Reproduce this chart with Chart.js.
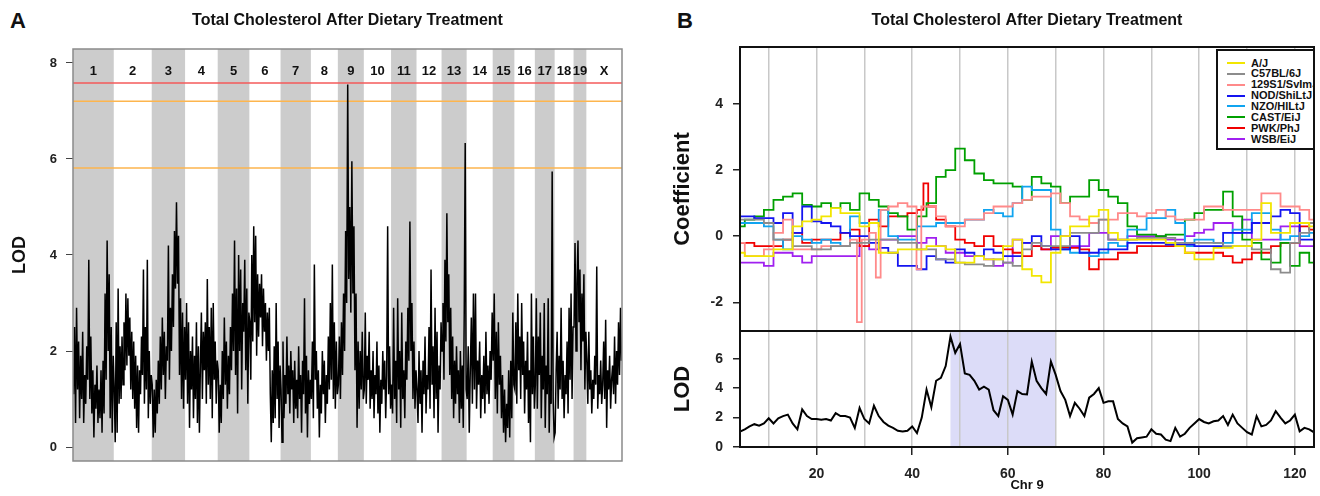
<!DOCTYPE html>
<html><head><meta charset="utf-8">
<script src="https://cdn.jsdelivr.net/npm/chart.js@4.4.1/dist/chart.umd.min.js"></script>
<style>
html,body{margin:0;padding:0;background:#fff;}
body{width:1320px;height:496px;position:relative;overflow:hidden;font-family:"Liberation Sans",Arial,sans-serif;}
canvas{position:absolute;}
.plabel{position:absolute;font-weight:bold;font-size:22px;line-height:22px;color:#111;}
#legend{position:absolute;left:1216px;top:49px;width:99px;height:101px;box-sizing:border-box;border:2px solid #111;background:#fff;overflow:hidden;}
#legend .row{position:absolute;left:0;height:11px;line-height:11px;font-size:11px;font-weight:bold;color:#111;white-space:nowrap;}
#legend .sw{position:absolute;left:9px;top:4.5px;width:18px;height:2px;}
#legend .tx{position:absolute;left:33px;top:0;}
</style>
</head><body>
<div class="plabel" style="left:10px;top:10px">A</div>
<div class="plabel" style="left:677px;top:10px">B</div>
<canvas id="cA" width="660" height="496" style="left:0;top:0"></canvas>
<canvas id="cB1" width="660" height="335" style="left:660px;top:0"></canvas>
<canvas id="cB2" width="660" height="176" style="left:660px;top:320px"></canvas>
<div id="legend"></div>
<script>
// ---------- DATA ----------
const chartTitle = 'Total Cholesterol After Dietary Treatment';
const chromNames = ['1','2','3','4','5','6','7','8','9','10','11','12','13','14','15','16','17','18','19','X'];
const chromLenMb = [195.5,182.1,160.0,156.5,151.8,149.7,145.4,129.4,124.6,130.7,122.1,120.1,120.4,124.9,104.0,98.2,95.0,90.7,61.4,171.0];
const thresholdsA = [7.58, 7.2, 5.81];
const yTicksA = [0,2,4,6,8];

const chr1Lod = [1.1,2.5,0.5,2.9,1.2,2.2,0.6,1.9,1.0,2.4,0.5,1.5,0.9,2.1,1.4,3.9,1.0,2.3,0.7,1.6,0.2,1.3,0.8,1.7,0.5,1.2,0.6,1.6,0.3,1.8,0.7,3.2,1.4,4.3,2.0,3.6,0.6,2.5,0.3,1.9];
const chr2Lod = [1.2,0.1,2.6,0.3,3.3,0.9,2.1,1.0,2.3,1.3,2.6,1.6,3.2,1.7,3.1,1.9,2.7,1.2,2.4,1.0,2.2,0.8,1.9,0.4,1.7,0.3,1.6,1.1,2.3,1.5,3.7,0.9,2.5,1.2,3.9,0.6,2.0,0.9,1.5];
const chr3Lod = [1.3,0.2,1.2,0.3,1.4,0.7,1.8,0.9,2.3,1.2,2.7,1.5,2.4,1.0,2.1,1.8,4.2,1.4,2.9,2.0,3.6,2.5,4.5,3.3,5.1,3.4,4.4,1.5,3.1,1.0,2.8,0.8,2.5];
const chr4Lod = [1.4,3.0,0.9,2.6,0.4,2.0,1.2,2.3,0.6,1.9,1.0,2.6,0.5,2.1,0.3,1.7,2.8,1.0,2.4,1.6,2.6,0.9,3.5,1.3,2.5,1.0,2.9,0.6,3.0,1.4,2.2,0.9,1.8];
const chr5Lod = [1.6,0.3,1.3,0.5,2.0,1.0,2.7,1.3,2.2,0.8,1.9,1.1,2.5,1.6,3.2,2.0,4.3,1.5,3.3,0.7,4.0,2.0,3.7,1.2,3.0,2.4,3.9,1.6,3.3,0.9,2.8];
const chr6Lod = [2.6,1.4,4.0,2.2,4.6,2.6,4.4,1.9,3.6,2.3,3.4,2.7,3.6,2.1,3.3,2.4,3.0,1.8,2.8,2.0,2.9,1.1,0.1,1.6,0.5,2.1,0.6,3.0,1.0,2.2,0.4,1.7];
const chr7Lod = [1.2,0.1,2.2,0.6,1.5,0.9,2.3,1.1,1.7,0.7,2.0,1.2,1.6,0.5,1.8,0.8,1.4,0.6,2.1,1.0,1.5,0.3,1.8,1.1,3.1,0.7,1.9,0.2,1.6,0.9,1.4];
const chr8Lod = [1.0,2.2,0.6,3.8,1.4,2.0,0.8,1.6,0.2,1.3,0.7,2.0,1.1,1.8,0.5,1.5,0.9,2.3,1.2,3.0,1.4,3.8,1.0,2.6,0.8,2.2,1.1];
const chr9Lod = [1.3,2.3,1.0,2.6,1.5,3.2,2.0,4.5,3.0,7.55,3.5,5.0,2.8,5.95,3.2,4.6,1.6,3.2,0.4,2.2,0.8,2.0,1.2,2.4,1.0];
const chr10Lod = [1.2,2.8,0.9,1.9,1.4,2.4,0.8,1.6,1.0,2.0,0.6,1.5,1.1,2.2,0.7,1.7,0.3,1.4,0.9,2.0,1.2,1.8,0.6,1.5,4.6,1.1,2.1,0.8];
const chr11Lod = [1.3,0.7,2.9,1.0,1.8,0.5,3.1,1.2,2.0,0.4,2.8,1.0,1.6,0.6,2.2,1.4,2.9,1.8,4.7,2.0,3.0,1.0,2.2,0.8,1.6];
const chr12Lod = [1.2,0.5,2.0,0.9,1.6,0.3,1.8,1.1,2.3,0.7,1.5,1.2,2.5,0.8,3.7,1.3,2.1,0.6,2.9,1.0,2.4,0.3,1.7,1.2,2.6];
const chr13Lod = [2.0,3.0,1.4,3.9,2.2,4.87,2.6,3.6,1.5,2.9,1.0,2.3,0.6,1.8,0.9,2.1,1.1,1.6,0.5,2.0,0.8,1.7,0.4,2.8,6.33,1.2];
const chr14Lod = [1.0,2.1,0.3,1.6,2.7,0.9,3.2,1.2,3.2,0.8,1.8,1.3,2.2,0.6,1.5,1.0,1.9,0.7,2.4,1.1,1.7,0.9,2.0,1.4,2.8];
const chr15Lod = [1.8,3.2,1.0,2.4,0.7,2.6,1.3,1.9,0.6,1.5,0.3,1.2,0.1,0.9,0.4,1.6,0.2,1.8,0.6,2.8,1.3];
const chr16Lod = [1.2,2.6,0.9,3.2,1.6,2.3,1.0,3.0,1.5,2.2,0.7,1.8,1.2,2.4,0.5,1.6,0.1,3.2,1.1,2.3,0.8];
const chr17Lod = [1.3,3.1,0.8,2.3,1.5,2.8,0.6,1.9,1.2,3.0,0.4,1.7,1.1,3.1,0.3,1.5,0.9,5.74,1.0,0.2];
const chr18Lod = [0.3,1.6,2.4,0.8,1.9,1.2,2.9,1.0,1.8,0.6,1.5,1.1,2.2,0.7,2.9,1.4,3.2,1.0,2.5];
const chr19Lod = [2.5,4.25,2.0,3.4,4.3,2.6,3.7,1.6,3.2,2.2,3.6,1.2,2.4];
const chrXLod = [1.8,0.9,2.4,1.2,1.6,0.7,1.4,1.0,1.9,1.3,3.76,0.8,1.5,1.1,1.8,0.9,1.3,2.2,1.0,2.65,0.4,1.6,1.2,1.9,0.8,1.4,1.7,1.1,2.3,0.9,2.0,1.3,2.6,1.5,2.9,1.8];
const lodByChrom = [chr1Lod,chr2Lod,chr3Lod,chr4Lod,chr5Lod,chr6Lod,chr7Lod,chr8Lod,chr9Lod,chr10Lod,chr11Lod,chr12Lod,chr13Lod,chr14Lod,chr15Lod,chr16Lod,chr17Lod,chr18Lod,chr19Lod,chrXLod];

// Panel B: chromosome 9 founder coefficients (Mb positions)
const posB = [4,6,8,10,12,14,16,18,20,22,24,26,28,30,32,34,36,38,40,42,44,46,48,50,52,54,56,58,60,62,64,66,68,70,72,74,76,78,80,82,84,86,88,90,92,94,96,98,100,102,104,106,108,110,112,114,116,118,120,122,124];
const strainNames = ['A/J','C57BL/6J','129S1/SvImJ','NOD/ShiLtJ','NZO/HlLtJ','CAST/EiJ','PWK/PhJ','WSB/EiJ'];
const coefAJ = [-0.5,-0.6,-0.6,-0.6,-0.4,-0.4,0.3,0.45,0.5,0.6, 0.85,0.7,0.7,0.3,0.4,-0.5,-0.5,-0.4,-0.4,-0.4, -0.3,-0.3,-0.4,-0.8,-0.8,-0.6,-0.7,-0.7,-0.3,-0.1, -1.0,-1.2,-1.4,-0.5,0.0,0.3,0.3,0.6,0.8,0.1, -0.1,-0.1,-0.1,-0.1,-0.1,-0.2,-0.3,-0.5,-0.7,-0.7, -0.35,-0.35,-0.3,-0.3,-0.1,1.0,0.1,0.1,0.4,0.4, 0.3];
const coefB6 = [0.5,0.5,0.5,0.4,-0.1,-0.1,-0.3,-0.3,-0.4,-0.4, -0.3,-0.3,-0.2,-0.2,-0.1,-0.1,-0.1,-0.2,-0.2,-0.4, -0.4,-0.7,-0.7,-0.8,-0.85,-0.85,-0.9,-0.7,-0.8,-0.9, -0.4,-0.2,-0.3,-0.3,-0.3,0.1,0.1,0.1,0.5,-0.1, -0.1,-0.1,-0.05,-0.05,-0.05,-0.05,-0.2,-0.2,-0.2,-0.2, -0.2,-0.3,-0.3,-0.3,-0.4,-0.4,-1.0,-1.1,-0.2,0.1, 0.4];
const coef129 = [-0.2,-0.6,-0.6,-0.4,0.1,0.5,-0.4,-0.4,-0.4,-0.3, -0.3,-0.3,-0.1,-0.1,0.1,0.8,0.9,1.0,0.9,0.9, 0.9,0.6,0.3,0.3,0.5,0.5,0.7,0.9,0.9,1.0, 1.1,1.2,1.2,1.3,1.0,0.6,0.5,0.4,0.5,0.5, 0.7,0.7,0.6,0.7,0.8,0.6,0.5,0.5,0.5,0.9, 0.9,0.8,0.8,0.8,0.8,1.3,1.3,0.9,0.9,0.8, 0.5];
const coefNOD = [0.6,0.6,0.55,0.55,0.4,0.7,0.1,0.9,0.45,0.4, 0.3,0.1,0.0,0.0,-0.2,-0.35,-0.5,-0.9,-0.9,-1.0, -0.6,-0.7,-0.8,-0.4,-0.5,-0.6,-0.4,-0.5,-0.6,-0.6, -0.2,0.0,-0.3,-0.4,-0.4,0.0,-0.5,-0.5,-0.4,-0.4, -0.4,-0.2,-0.2,-0.2,-0.2,-0.25,-0.25,-0.25,-0.3,-0.3, -0.3,0.1,0.1,0.1,0.4,0.4,0.6,0.8,0.7,-0.1, -0.1];
const coefNZO = [0.4,0.4,0.4,0.3,-0.1,-0.4,0.0,-0.1,-0.2,-0.1, -0.2,-0.3,0.6,0.4,0.4,0.8,0.0,-0.1,-0.1,0.3, 0.3,0.4,0.4,0.4,0.5,0.5,0.8,0.7,0.6,1.0, 1.5,1.4,1.4,0.2,-0.4,-0.5,-0.5,-0.6,-0.5,-0.2, -0.3,0.2,0.2,0.55,0.55,0.8,0.4,-0.3,-0.1,-0.1, -0.2,-0.2,0.2,0.2,0.7,0.7,0.2,-0.1,0.0,0.0, 0.1];
const coefCAST = [0.3,0.5,0.6,0.8,1.1,1.2,1.3,0.95,0.9,1.0, 0.85,1.0,0.8,1.3,1.1,0.9,0.7,0.6,0.2,0.6, 1.0,1.8,2.0,2.65,2.3,1.9,1.7,1.6,1.6,1.5, 1.1,1.8,1.6,1.5,1.0,1.2,1.2,1.7,1.4,1.2, 1.0,0.3,0.05,0.05,0.0,0.05,0.05,0.5,0.7,0.8, 0.8,1.35,0.6,-0.1,-0.2,-0.7,-0.8,-0.2,-0.9,-0.5, -0.8];
const coefPWK = [-0.2,-0.2,-0.3,-0.3,-0.3,-0.1,0.1,-0.2,-0.1,-0.1, -0.1,0.1,0.2,-0.3,0.5,0.3,0.6,0.6,0.7,0.8, 0.9,0.5,0.3,-0.1,-0.2,-0.3,0.0,-0.3,-0.4,-0.5, -0.6,-0.3,-0.4,-0.35,-0.35,-0.35,-0.4,-1.0,-0.7,-0.7, -0.5,-0.5,-0.3,-0.3,-0.3,-0.3,-0.3,-0.5,-0.5,-0.5, -0.5,-0.6,-0.8,-0.7,-0.5,-0.5,-0.3,-0.2,-0.2,0.3, 0.2];
const coefWSB = [-0.8,-0.8,-0.8,-0.9,-0.5,-0.5,-0.6,-0.8,-0.6,-0.6, -0.6,-0.6,-0.6,-0.3,-0.4,-0.1,-0.1,0.0,0.0,-0.2, -0.05,-0.3,-0.5,-0.5,-0.6,-0.6,-0.7,-0.9,-0.8,-0.1, -0.2,-0.3,-0.4,0.0,0.0,-0.3,-0.3,0.1,0.1,-0.1, -0.1,0.0,0.0,0.0,0.0,-0.1,-0.1,0.0,0.1,0.2, 0.4,0.4,0.1,0.5,-0.1,-0.1,-0.1,0.3,0.3,-0.3, -0.3];
const coefSeries = [coefAJ,coefB6,coef129,coefNOD,coefNZO,coefCAST,coefPWK,coefWSB];
// narrow excursions between grid positions (Mb, coefficient)
const spike129X = [28.9, 32.8, 41.8];
const spike129Y = [-2.6, -1.25, -1.0];
const spikePwkX = [42.7];
const spikePwkY = [1.6];
const yTicksCoef = [-2,0,2,4];

const posLodB = [4,5,6,7,8,9,10,11,12,13,14,15,16,17,18,19,20,21,22,23,24,25,26,27,28,29,30,31,32,33,34,35,36,37,38,39,40,41,42,43,44,45,46,47,48,49,50,51,52,53,54,55,56,57,58,59,60,61,62,63,64,65,66,67,68,69,70,71,72,73,74,75,76,77,78,79,80,81,82,83,84,85,86,87,88,89,90,91,92,93,94,95,96,97,98,99,100,101,102,103,104,105,106,107,108,109,110,111,112,113,114,115,116,117,118,119,120,121,122,123,124];
const lodB = [1.05,1.2,1.4,1.55,1.45,1.6,1.95,1.6,1.95,2.1, 2.2,1.6,1.2,2.55,2.1,1.9,1.9,1.85,1.9,1.8, 2.3,2.1,2.1,2.0,1.3,2.65,1.9,1.6,2.8,2.1, 1.7,1.45,1.3,1.1,1.05,1.1,1.4,0.95,2.0,3.9, 2.7,4.5,4.7,5.5,7.5,6.4,7.0,5.0,4.9,4.5, 3.9,4.1,3.9,2.5,2.1,3.45,3.2,2.2,3.8,3.6, 3.57,5.8,4.5,4.0,3.6,5.8,4.9,3.8,3.2,2.1, 3.0,2.6,2.1,3.35,3.6,4.0,3.0,3.1,3.1,1.9, 1.6,1.4,0.3,0.6,0.65,0.7,1.2,0.9,0.85,0.5, 0.4,1.3,0.7,0.9,1.3,1.6,1.9,1.7,1.6,1.75, 1.8,2.1,1.5,2.2,1.6,1.3,1.0,0.85,2.1,1.4, 1.5,1.8,2.43,2.0,1.6,1.8,2.2,1.06,1.3,1.2, 1.0];
const yTicksLodB = [0,2,4,6];
const xGridMb = [10,20,30,40,50,60,70,80,90,100,110,120];
const supportInterval = [48, 70];

// ---------- STYLE ----------
const F = '"Liberation Sans", Arial, sans-serif';
Chart.defaults.font.family = F;
const strainColors = ['#f2e600','#8c8c8c','#ff8a8a','#1414f0','#10a4f0','#00a000','#f00000','#a020f0'];
const thresholdColors = ['#f55a5a','#fdb54e','#fdb54e'];

function fixW(w) { return s => { s.width = w; s.paddingTop = 0; s.paddingBottom = 0; s.paddingLeft = 0; s.paddingRight = 0; }; }
function fixH(h) { return s => { s.height = h; s.paddingTop = 0; s.paddingBottom = 0; s.paddingLeft = 0; s.paddingRight = 0; }; }
function setTicks(vals) { return s => { s.ticks = vals.map(v => ({value: v})); }; }

// ---------- PANEL A ----------
const chromStarts = [];
let acc = 0;
chromLenMb.forEach(l => { chromStarts.push(acc); acc += l; });
const genomeTotal = acc;
const pointsA = [];
lodByChrom.forEach((vals, c) => {
  const n = vals.length;
  vals.forEach((v, i) => pointsA.push({x: chromStarts[c] + (i + 0.5) * chromLenMb[c] / n, y: v}));
});

const panelAPlugin = {
  id: 'panelA',
  beforeDraw(chart) {
    const {ctx, chartArea: a, scales: {x}} = chart;
    ctx.save();
    ctx.fillStyle = '#cccccc';
    chromStarts.forEach((s, i) => {
      if (i % 2 === 0) {
        const x0 = x.getPixelForValue(s), x1 = x.getPixelForValue(s + chromLenMb[i]);
        ctx.fillRect(x0, a.top, x1 - x0, a.bottom - a.top);
      }
    });
    ctx.restore();
  },
  beforeDatasetsDraw(chart) {
    const {ctx, chartArea: a, scales: {x, y}} = chart;
    ctx.save();
    thresholdsA.forEach((t, i) => {
      const py = y.getPixelForValue(t);
      ctx.strokeStyle = thresholdColors[i]; ctx.lineWidth = 1.5;
      ctx.beginPath(); ctx.moveTo(a.left, py); ctx.lineTo(a.right, py); ctx.stroke();
    });
    ctx.fillStyle = '#111';
    ctx.font = 'bold 13px ' + F;
    ctx.textAlign = 'center'; ctx.textBaseline = 'middle';
    chromNames.forEach((nm, i) => {
      const cx = x.getPixelForValue(chromStarts[i] + chromLenMb[i] / 2);
      ctx.fillText(nm, cx, a.top + 22);
    });
    ctx.restore();
  },
  afterDraw(chart) {
    const {ctx, chartArea: a} = chart;
    ctx.save();
    ctx.strokeStyle = '#8a8a8a'; ctx.lineWidth = 1.5;
    ctx.strokeRect(a.left, a.top, a.right - a.left, a.bottom - a.top);
    ctx.restore();
  }
};

new Chart(document.getElementById('cA'), {
  type: 'line',
  data: {datasets: [{data: pointsA, borderColor: '#000', borderWidth: 1.5, pointRadius: 0, tension: 0, fill: false}]},
  options: {
    responsive: false, animation: false, events: [],
    layout: {padding: {left: 0, right: 38, top: 0, bottom: 35}, autoPadding: false},
    plugins: {
      legend: {display: false}, tooltip: {enabled: false},
      title: {display: true, text: chartTitle, fullSize: false, color: '#111',
        font: {size: 16, weight: 'bold', family: F}, padding: {top: 11.4, bottom: 18.4}}
    },
    scales: {
      x: {type: 'linear', display: false, min: 0, max: genomeTotal},
      y: {min: -0.29, max: 8.29, afterFit: fixW(73), afterBuildTicks: setTicks(yTicksA),
        ticks: {font: {size: 13, weight: 'bold', family: F}, color: '#222', padding: 9},
        grid: {drawOnChartArea: false, tickLength: 7, color: '#444', lineWidth: 1},
        border: {display: false},
        title: {display: true, text: 'LOD', color: '#111', font: {size: 18, weight: 'bold', family: F}, padding: {top: 9, bottom: 0}}}
    }
  },
  plugins: [panelAPlugin]
});

// ---------- PANEL B ----------
const boxPlugin = {
  id: 'box',
  afterDraw(chart) {
    const {ctx, chartArea: a} = chart;
    ctx.save();
    ctx.strokeStyle = '#111'; ctx.lineWidth = 2;
    ctx.strokeRect(a.left, a.top, a.right - a.left, a.bottom - a.top);
    ctx.restore();
  }
};

function seriesPoints(k) {
  const pts = posB.map((p, i) => ({x: p, y: coefSeries[k][i]}));
  if (k === 2) spike129X.forEach((p, i) => pts.push({x: p, y: spike129Y[i]}));
  if (k === 6) spikePwkX.forEach((p, i) => pts.push({x: p, y: spikePwkY[i]}));
  return pts.sort((a, b) => a.x - b.x);
}

new Chart(document.getElementById('cB1'), {
  type: 'line',
  data: {datasets: coefSeries.map((s, k) => ({
    label: strainNames[k],
    data: seriesPoints(k),
    borderColor: strainColors[k], borderWidth: 1.8, pointRadius: 0, stepped: 'middle', fill: false
  }))},
  options: {
    responsive: false, animation: false, events: [],
    layout: {padding: {left: 0, right: 6, top: 0, bottom: 4}, autoPadding: false},
    plugins: {
      legend: {display: false}, tooltip: {enabled: false},
      title: {display: true, text: chartTitle, fullSize: false, color: '#111',
        font: {size: 16, weight: 'bold', family: F}, padding: {top: 11.4, bottom: 16.4}}
    },
    scales: {
      x: {type: 'linear', min: 4, max: 124, afterFit: fixH(0), afterBuildTicks: setTicks(xGridMb),
        ticks: {display: false, autoSkip: false},
        grid: {drawTicks: false, color: '#c8c8c8', lineWidth: 1.5},
        border: {display: false}},
      y: {min: -2.87, max: 5.73, afterFit: fixW(80), afterBuildTicks: setTicks(yTicksCoef),
        ticks: {font: {size: 14, weight: 'bold', family: F}, color: '#222', padding: 10},
        grid: {drawOnChartArea: false, tickLength: 7, color: '#222', lineWidth: 1.5},
        border: {display: false},
        title: {display: true, text: 'Coefficient', color: '#111', font: {size: 22, weight: 'bold', family: F}, padding: {top: 10, bottom: 0}}}
    }
  },
  plugins: [boxPlugin]
});

const shadePlugin = {
  id: 'shade',
  beforeDraw(chart) {
    const {ctx, chartArea: a, scales: {x}} = chart;
    const x0 = x.getPixelForValue(supportInterval[0]), x1 = x.getPixelForValue(supportInterval[1]);
    ctx.save();
    ctx.fillStyle = '#dcdcf8';
    ctx.fillRect(x0, a.top, x1 - x0, a.bottom - a.top);
    ctx.restore();
  }
};

new Chart(document.getElementById('cB2'), {
  type: 'line',
  data: {datasets: [{data: posLodB.map((p, i) => ({x: p, y: lodB[i]})), borderColor: '#000', borderWidth: 2, pointRadius: 0, tension: 0, fill: false}]},
  options: {
    responsive: false, animation: false, events: [],
    layout: {padding: {left: 0, right: 6, top: 11, bottom: 0}, autoPadding: false},
    plugins: {legend: {display: false}, tooltip: {enabled: false}},
    scales: {
      x: {type: 'linear', min: 4, max: 124, afterFit: fixH(49), afterBuildTicks: setTicks(xGridMb),
        ticks: {autoSkip: false, maxRotation: 0,
          callback: v => (v % 20 === 0 ? String(v) : ''),
          font: {size: 14, weight: 'bold', family: F}, color: '#222', padding: 11},
        grid: {color: '#c8c8c8', lineWidth: 1.5, tickLength: 8, tickWidth: 1.5,
          tickColor: c => (c.tick && c.tick.value % 20 === 0 ? '#222' : 'rgba(0,0,0,0)')},
        border: {display: false},
        title: {display: true, text: 'Chr 9', color: '#111', font: {size: 13, weight: 'bold', family: F}, padding: {top: 0, bottom: 3}}},
      y: {min: 0, max: 7.88, afterFit: fixW(80), afterBuildTicks: setTicks(yTicksLodB),
        ticks: {font: {size: 14, weight: 'bold', family: F}, color: '#222', padding: 10},
        grid: {drawOnChartArea: false, tickLength: 7, color: '#222', lineWidth: 1.5},
        border: {display: false},
        title: {display: true, text: 'LOD', color: '#111', font: {size: 22, weight: 'bold', family: F}, padding: {top: 10, bottom: 0}}}
    }
  },
  plugins: [shadePlugin, boxPlugin]
});

// ---------- LEGEND (HTML text) ----------
const leg = document.getElementById('legend');
strainNames.forEach((nm, i) => {
  const row = document.createElement('div');
  row.className = 'row';
  row.style.top = (6.5 + i * 10.86) + 'px';
  row.style.width = '95px';
  const sw = document.createElement('span'); sw.className = 'sw'; sw.style.background = strainColors[i];
  const tx = document.createElement('span'); tx.className = 'tx'; tx.textContent = nm;
  row.appendChild(sw); row.appendChild(tx); leg.appendChild(row);
});
</script>
</body></html>
